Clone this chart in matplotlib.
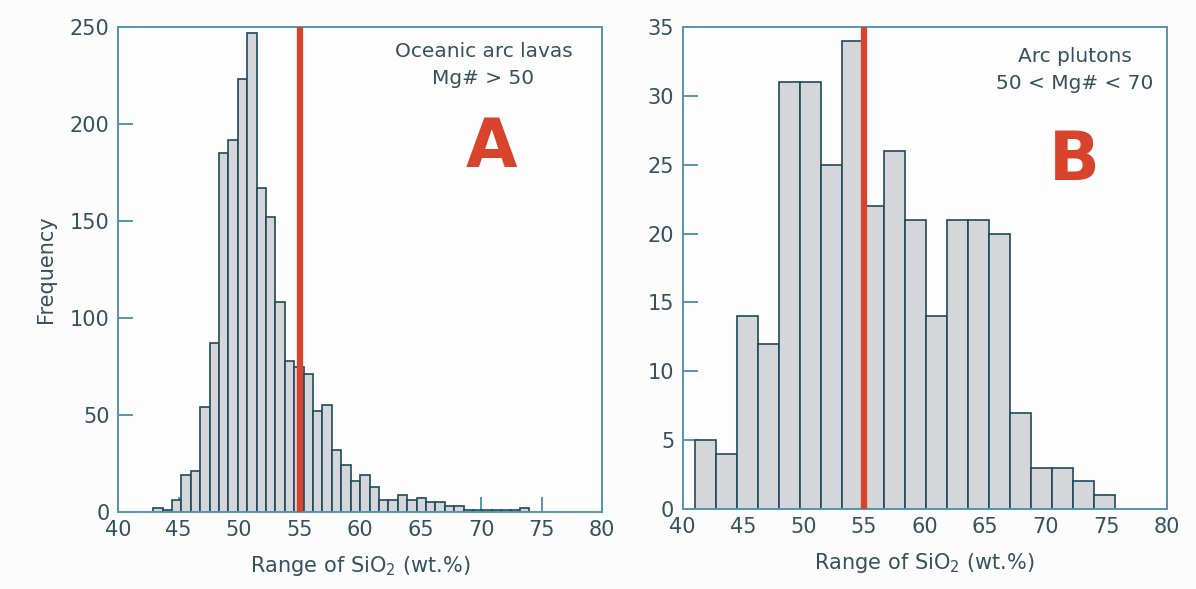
# histograms of SiO2 range, arc lavas vs arc plutons
import matplotlib.pyplot as plt
import numpy as np

# panel A - oceanic arc lavas (40 bins, ~42.9 to 74.0 wt.%)
lava_start, lava_stop, lava_nbins = 42.9, 74.0, 40
lava_counts = [2, 1, 6, 19, 21, 54, 87, 185, 192, 223,
               247, 167, 152, 108, 78, 75, 71, 52, 55, 32,
               24, 16, 19, 13, 6, 6, 9, 6, 7, 5,
               5, 3, 3, 1, 1, 1, 1, 1, 1, 2]

# panel B - arc plutons (20 bins, ~41.0 to 75.7 wt.%)
pluton_start, pluton_stop, pluton_nbins = 41.0, 75.7, 20
pluton_counts = [5, 4, 14, 12, 31, 31, 25, 34, 22, 26,
                 21, 14, 21, 21, 20, 7, 3, 3, 2, 1]

xticks = [40, 45, 50, 55, 60, 65, 70, 75, 80]
cutoff = 55
xlabel = 'Range of SiO$_2$ (wt.%)'

txt_col = '#34515e'
spine_col = '#5596b0'
edge_col = '#1e4a5c'
fill_col = '#d4d6da'
red = '#d8432c'

plt.rcParams['font.family'] = 'DejaVu Sans'
fig = plt.figure(figsize=(11.96, 5.89), dpi=100)
fig.patch.set_facecolor('#fcfcfc')
axA = fig.add_axes([0.0987, 0.1307, 0.4047, 0.8235])
axB = fig.add_axes([0.5707, 0.1358, 0.4047, 0.8183])


def draw(ax, start, stop, nbins, counts, ymax, yticks):
    edges = np.linspace(start, stop, nbins + 1)
    ax.bar(edges[:-1], counts, width=np.diff(edges), align='edge',
           color=fill_col, edgecolor=edge_col, linewidth=1.2, zorder=2)
    ax.axvline(cutoff, color=red, lw=4.5, zorder=3)
    ax.set_xlim(40, 80)
    ax.set_ylim(0, ymax)
    ax.set_xticks(xticks)
    ax.set_yticks(yticks)
    ax.tick_params(direction='in', length=11, width=1.4, color=spine_col,
                   labelsize=15, labelcolor=txt_col, pad=6)
    for s in ax.spines.values():
        s.set_color(spine_col)
        s.set_linewidth(1.4)
    ax.set_facecolor('#fdfdfd')
    ax.set_xlabel(xlabel, fontsize=15, color=txt_col, labelpad=10)


draw(axA, lava_start, lava_stop, lava_nbins, lava_counts, 250,
     [0, 50, 100, 150, 200, 250])
draw(axB, pluton_start, pluton_stop, pluton_nbins, pluton_counts, 35,
     [0, 5, 10, 15, 20, 25, 30, 35])

axA.set_ylabel('Frequency', fontsize=15, color=txt_col, labelpad=10)

axA.text(0.755, 0.921, 'Oceanic arc lavas\nMg# > 50', transform=axA.transAxes,
         ha='center', va='center', fontsize=14.5, color=txt_col, linespacing=1.55)
axA.text(0.772, 0.751, 'A', transform=axA.transAxes, ha='center', va='center',
         fontsize=48, fontweight='bold', color=red)

axB.text(0.81, 0.911, 'Arc plutons\n50 < Mg# < 70', transform=axB.transAxes,
         ha='center', va='center', fontsize=14.5, color=txt_col, linespacing=1.55)
axB.text(0.81, 0.722, 'B', transform=axB.transAxes, ha='center', va='center',
         fontsize=48, fontweight='bold', color=red)

plt.savefig('out.png', dpi=100, facecolor=fig.get_facecolor())
